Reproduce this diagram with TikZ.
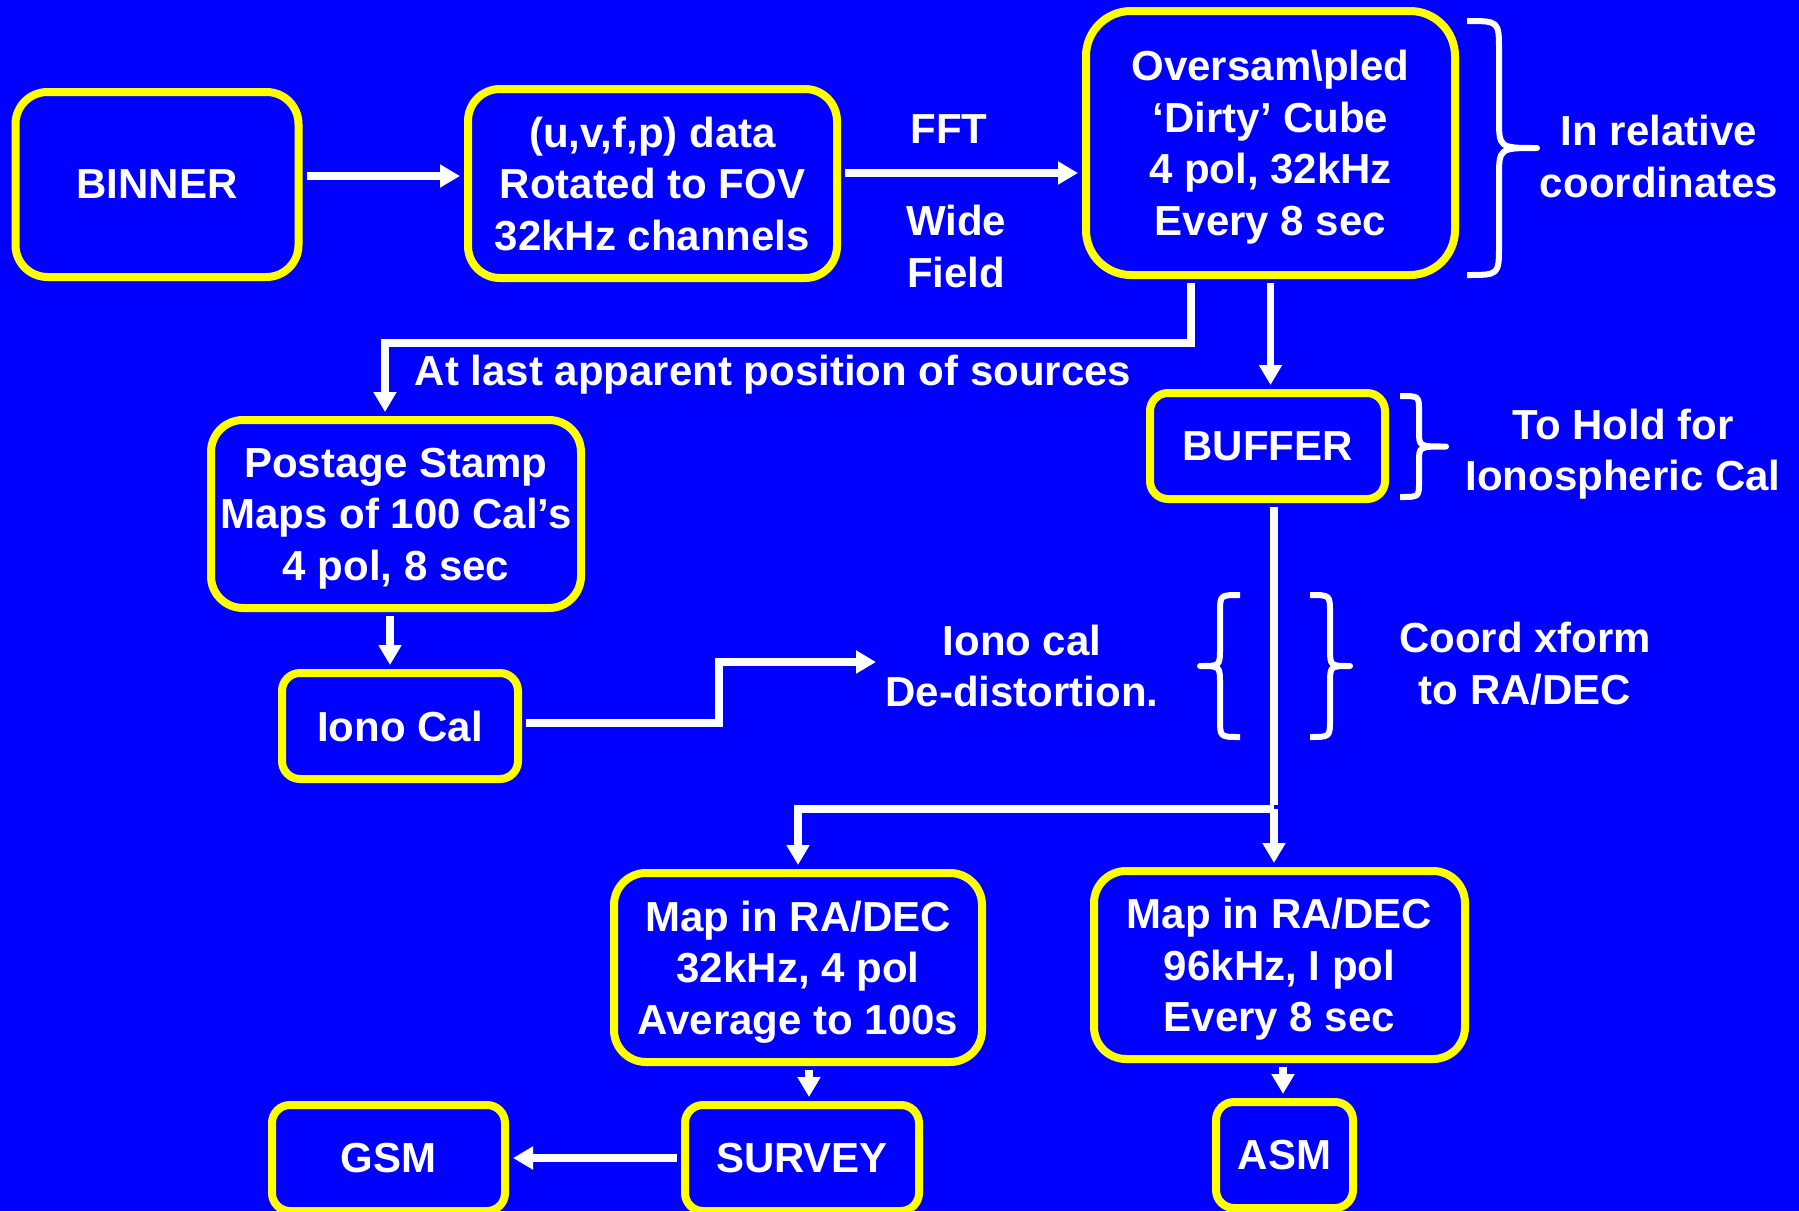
\documentclass[tikz,border=0pt]{standalone}
\usepackage{fontspec}
\setmainfont{Liberation Sans}
\usetikzlibrary{arrows.meta}

\definecolor{slideblue}{RGB}{0,0,255}
\definecolor{slideyellow}{RGB}{255,255,0}
\def\slidefont{\bfseries\fontsize{42}{51.5}\selectfont}

\tikzset{
    stage/.style={draw=slideyellow, line width=8pt, fill=slideblue, text=white,
        rounded corners=18pt, inner sep=0pt, align=center, text depth=-5pt, font=\slidefont},
    note/.style={text=white, inner sep=0pt, align=center, font=\slidefont},
    flow/.style={draw=white, line width=7.5pt, -{Triangle[length=20pt,width=22pt]},
        shorten <=4pt, shorten >=4pt},
    curly/.style={draw=white, line width=6pt, line join=round}
}

% x, top, bottom, stem offset, tip offset, radius
\newcommand{\curlybrace}[6]{
    \draw[curly] (#1,#2) .. controls ({#1+#4},#2) .. ({#1+#4},{#2-#6})
        -- ({#1+#4},{(#2+#3)/2+#6}) .. controls ({#1+#4},{(#2+#3)/2}) .. ({#1+#5},{(#2+#3)/2})
        .. controls ({#1+#4},{(#2+#3)/2}) .. ({#1+#4},{(#2+#3)/2-#6})
        -- ({#1+#4},{#3+#6}) .. controls ({#1+#4},#3) .. (#1,#3);
}

\begin{document}
\begin{tikzpicture}[x=1pt,y=1pt]
    \useasboundingbox (0,0) rectangle (1799,-1211);
    \fill[slideblue] (0,0) rectangle (1799,-1211);

    \node[stage, rounded corners=32pt, minimum width=283pt, minimum height=185pt] (binner) at (157,-184.5) {BINNER};
    \node[stage, rounded corners=32pt, minimum width=369pt, minimum height=189pt] (uvdata) at (652.5,-183.5) {(u,v,f,p) data\\Rotated to FOV\\32kHz channels};
    \node[stage, rounded corners=45pt, minimum width=369pt, minimum height=264pt] (cube) at (1270.5,-143) {Oversam\textbackslash pled\\‘Dirty’ Cube\\4 pol, 32kHz\\Every 8 sec};
    \node[stage, minimum width=235pt, minimum height=106pt] (buffer) at (1267.5,-446) {BUFFER};
    \node[stage, rounded corners=32pt, minimum width=370pt, minimum height=188pt] (stamp) at (396,-514) {Postage Stamp\\Maps of 100 Cal’s\\4 pol, 8 sec};
    \node[stage, minimum width=236pt, minimum height=106pt] (ionocal) at (400,-726) {Iono Cal};
    \node[stage, rounded corners=32pt, minimum width=368pt, minimum height=189pt] (mapavg) at (798,-967.5) {Map in RA/DEC\\32kHz, 4 pol\\Average to 100s};
    \node[stage, rounded corners=32pt, minimum width=371pt, minimum height=188pt] (mapfast) at (1279.5,-965) {Map in RA/DEC\\96kHz, I pol\\Every 8 sec};
    \node[stage, minimum width=234pt, minimum height=106pt] (survey) at (802,-1158) {SURVEY};
    \node[stage, minimum width=233pt, minimum height=106pt] (gsm) at (388.5,-1158) {GSM};
    \node[stage, minimum width=137pt, minimum height=106pt] (asm) at (1284.5,-1155) {ASM};

    \node[note] (fft) at (949,-129) {FFT};
    \node[note] (widefield) at (956,-246.5) {Wide\\Field};
    \node[note] (lastpos) at (773,-375) {At last apparent position of sources};
    \node[note] (relcoord) at (1659,-156.5) {In relative\\coordinates};
    \node[note] (holdcal) at (1623,-454) {To Hold for\\Ionospheric Cal};
    \node[note] (dedistort) at (1022,-666) {Iono cal\\De-distortion.};
    \node[note] (xform) at (1525,-663.5) {Coord xform\\to RA/DEC};

    \coordinate (bend) at (385,-343);
    \coordinate (kink) at (719,-662);
    \coordinate (dedist) at (880,-662);
    \coordinate (split) at (1274,-809);

    \draw[flow] ([yshift=8.5pt]binner.east) -- ([yshift=7.5pt]uvdata.west);
    \draw[flow] ([yshift=10.5pt]uvdata.east) -- ([yshift=-30pt]cube.west);
    \draw[flow] (cube.south) -- (cube.south |- buffer.north);
    \draw[flow] ([xshift=-79.5pt]cube.south) |- (bend) -- (bend |- stamp.north);
    \draw[flow] ([xshift=-6pt]stamp.south) -- ([xshift=-10pt]ionocal.north);
    \draw[flow] ([yshift=3pt]ionocal.east) -| (kink) -- (dedist);

    \draw[flow, -] ([xshift=6.5pt]buffer.south) -- (split);
    \draw[flow, shorten <=0pt] (split) -- (split |- mapfast.north);
    \draw[flow, shorten <=0pt] (split) -| (mapavg.north);

    \draw[flow] ([xshift=11pt]mapavg.south) -- ([xshift=7pt]survey.north);
    \draw[flow] ([xshift=3.5pt]mapfast.south) -- ([xshift=-1.5pt]asm.north);
    \draw[flow] (survey.west) -- (gsm.east);

    \curlybrace{1467}{-21}{-275}{32}{70}{30}
    \curlybrace{1400}{-396}{-497}{19}{46}{15}
    \curlybrace{1240}{-595}{-737}{-20}{-40}{18}
    \curlybrace{1310}{-595}{-737}{20}{40}{18}
\end{tikzpicture}
\end{document}
